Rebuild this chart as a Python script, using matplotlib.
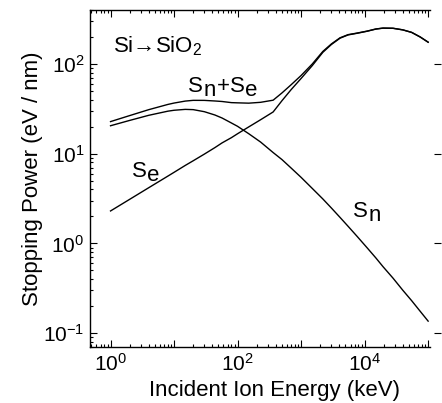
import math
import matplotlib
matplotlib.use("Agg")
import matplotlib.pyplot as plt
from matplotlib.ticker import FixedLocator, FuncFormatter, LogLocator, NullFormatter

plt.rcParams['font.family'] = ['Liberation Sans', 'DejaVu Sans']
plt.rcParams['mathtext.fontset'] = 'custom'
plt.rcParams['mathtext.rm'] = 'Liberation Sans'
plt.rcParams['mathtext.it'] = 'Liberation Sans:italic'
plt.rcParams['mathtext.bf'] = 'Liberation Sans:bold'

# Si ions in SiO2 (keV, eV/nm)
energy = [1, 2, 4, 8, 10, 15, 20, 30, 44, 57, 80, 100, 150, 230, 363, 500,
          700, 1000, 1500, 2200, 3000, 4100, 5500, 7600, 11000, 15000, 19500,
          28000, 40000, 55000, 75000, 100000]
s_nuclear = [20.5, 23.5, 26.8, 29.8, 30.5, 31.2, 31.0, 29.4, 27.0, 25.0, 22.0,
             20.2, 16.7, 13.5, 10.3, 8.6, 6.9, 5.45, 4.1, 3.13, 2.48, 1.95,
             1.55, 1.20, 0.89, 0.69, 0.55, 0.41, 0.30, 0.23, 0.175, 0.136]
s_electronic = [2.3, 3.1, 4.18, 5.63, 6.2, 7.4, 8.34, 9.9, 11.7, 13.2, 15.1,
                16.7, 19.9, 23.9, 29.2, 39, 52, 69, 96, 135, 165, 194, 211,
                220, 232, 245, 251, 250, 240, 225, 200, 175]
s_total = [n + e for n, e in zip(s_nuclear, s_electronic)]

x_decades = [0, 1, 2, 3, 4, 5]
x_labelled = [0, 2, 4]
y_decades = [-1, 0, 1, 2]

fig = plt.figure(figsize=(4.42, 4.03), dpi=100)
ax = fig.add_axes([90/442, 1 - 347/403, 340/442, 337/403])

ax.loglog(energy, s_nuclear, color="black", lw=1.0)
ax.loglog(energy, s_electronic, color="black", lw=1.0)
ax.loglog(energy, s_total, color="black", lw=1.0)

ax.set_xlim(0.475, 1.07e5)
ax.set_ylim(0.070, 400)


def decade_label(v, pos, keep=None):
    k = round(math.log10(v))
    if keep is not None and k not in keep:
        return ""
    return r"$\mathregular{10^{%d}}$" % k


ax.xaxis.set_major_locator(FixedLocator([10.0**k for k in x_decades]))
ax.xaxis.set_major_formatter(FuncFormatter(lambda v, p: decade_label(v, p, x_labelled)))
ax.xaxis.set_minor_locator(LogLocator(base=10, subs=range(2, 10), numticks=20))
ax.xaxis.set_minor_formatter(NullFormatter())
ax.yaxis.set_major_locator(FixedLocator([10.0**k for k in y_decades]))
ax.yaxis.set_major_formatter(FuncFormatter(decade_label))
ax.yaxis.set_minor_locator(LogLocator(base=10, subs=range(2, 10), numticks=20))
ax.yaxis.set_minor_formatter(NullFormatter())

for side in ["left", "bottom", "top"]:
    ax.spines[side].set_linewidth(1.0)
ax.spines["right"].set_position(("outward", 8))
ax.spines["right"].set_color("none")

ax.tick_params(which="both", direction="in", top=True, right=True,
               labelsize=15, width=0.8, color="black")
ax.tick_params(which="major", length=5, pad=4)
ax.tick_params(which="minor", length=2.5)
ax.tick_params(axis="y", which="minor", right=False)

ax.set_xlabel("Incident Ion Energy (keV)", fontsize=16, labelpad=4, x=0.544)
ax.set_ylabel("Stopping Power (eV / nm)", fontsize=16, labelpad=0)


def curve_label(x, y, parts, size=16, drop=3):
    # parts: (text, lowered) pieces, subscripts kept near full size as in the original
    t = ax.text(x, y, parts[0][0], fontsize=size, ha="left", va="baseline")
    prev = parts[0][1]
    for s, low in parts[1:]:
        dy = (-drop if low else 0) - (-drop if prev else 0)
        t = ax.annotate(s, xy=(1, 0), xycoords=t, xytext=(0.4, dy),
                        textcoords="offset points", fontsize=size,
                        ha="left", va="bottom")
        prev = low


ax.text(1.1, 136, "Si\u2192SiO$_2$", fontsize=16, ha="left", va="baseline")
curve_label(16.6, 48.7, [("S", False), ("n", True), ("+", False), ("S", False), ("e", True)])
curve_label(2.18, 5.5, [("S", False), ("e", True)])
curve_label(6600, 1.97, [("S", False), ("n", True)])

fig.savefig("out.png", dpi=100)
